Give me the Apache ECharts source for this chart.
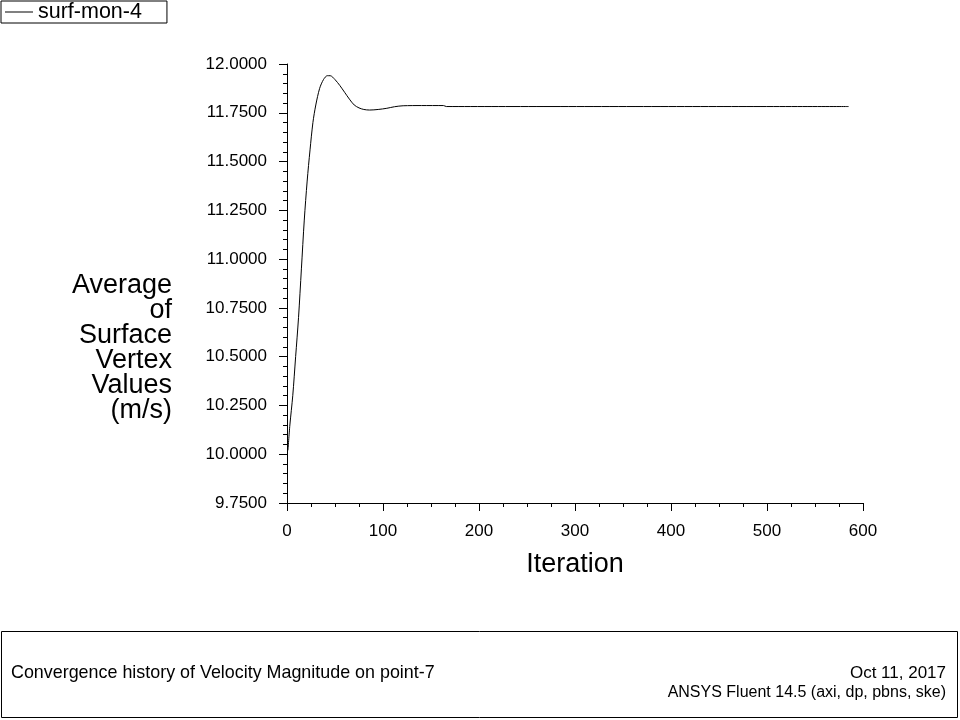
<!DOCTYPE html>
<html>
<head>
<meta charset="utf-8">
<script src="https://cdn.jsdelivr.net/npm/echarts@6/dist/echarts.min.js"></script>
<style>html,body{margin:0;padding:0;background:#fff;}#c{width:960px;height:720px;}</style>
</head>
<body>
<div id="c"></div>
<script>
var seriesName = 'surf-mon-4';
var iterations = [1, 3, 6, 9, 12, 15, 18, 21, 24, 27, 30, 34, 38, 42, 45, 50, 55, 60, 65, 70, 75, 80, 86, 95, 104, 112, 121, 140, 163, 166, 585];
var values = [10.02, 10.15, 10.30, 10.50, 10.70, 10.95, 11.20, 11.40, 11.56, 11.70, 11.79, 11.875, 11.92, 11.94, 11.94, 11.92, 11.89, 11.855, 11.82, 11.79, 11.775, 11.767, 11.764, 11.767, 11.773, 11.781, 11.786, 11.787, 11.787, 11.782, 11.782];
var xTicks = [0, 100, 200, 300, 400, 500, 600];
var yTicks = [9.75, 10.0, 10.25, 10.5, 10.75, 11.0, 11.25, 11.5, 11.75, 12.0];
var yName = 'Average\nof\nSurface\nVertex\nValues\n(m/s)';
var xName = 'Iteration';
var footTitle = 'Convergence history of Velocity Magnitude on point-7';
var footDate = 'Oct 11, 2017';
var footVersion = 'ANSYS Fluent 14.5 (axi, dp, pbns, ske)';

var FONT = "'Liberation Sans', Arial, sans-serif";
var chart = echarts.init(document.getElementById('c'));
var data = iterations.map(function (it, i) { return [it, values[i]]; });

chart.setOption({
  animation: false,
  backgroundColor: '#fff',
  textStyle: { fontFamily: FONT, color: '#000' },
  legend: {
    left: 1, top: 1,
    data: [{ name: seriesName, icon: 'rect' }],
    itemWidth: 28, itemHeight: 1, itemGap: 4,
    borderColor: '#000', borderWidth: 1,
    padding: [0, 25, 0, 4],
    textStyle: { fontFamily: FONT, fontSize: 21.5, color: '#000', padding: [0, 0, 0, 0] },
    itemStyle: { color: '#000' }
  },
  grid: { left: 287, right: 97, top: 64, bottom: 217, containLabel: false },
  xAxis: {
    type: 'value', min: xTicks[0], max: xTicks[xTicks.length - 1], interval: 100,
    name: xName, nameLocation: 'middle', nameGap: 48,
    nameTextStyle: { fontFamily: FONT, fontSize: 27, color: '#000' },
    axisLine: { show: true, onZero: false, lineStyle: { color: '#000', width: 1 } },
    axisTick: { show: true, inside: false, length: 8, lineStyle: { color: '#000' } },
    minorTick: { show: true, splitNumber: 4, length: 4, lineStyle: { color: '#000' } },
    axisLabel: { fontFamily: FONT, fontSize: 17, color: '#000', margin: 20 },
    splitLine: { show: false }
  },
  yAxis: {
    type: 'value', min: yTicks[0], max: yTicks[yTicks.length - 1], interval: 0.25,
    axisLine: { show: true, onZero: false, lineStyle: { color: '#000', width: 1 } },
    axisTick: { show: true, inside: false, length: 8, lineStyle: { color: '#000' } },
    minorTick: { show: true, splitNumber: 5, length: 4, lineStyle: { color: '#000' } },
    axisLabel: { fontFamily: FONT, fontSize: 17, color: '#000', margin: 20,
      formatter: function (v) { return v.toFixed(4); } },
    splitLine: { show: false }
  },
  series: [{
    name: seriesName, type: 'line', data: data, smooth: 0.3,
    showSymbol: false, symbol: 'none',
    lineStyle: { color: '#000', width: 1 }, itemStyle: { color: '#000' }
  }],
  graphic: [
    { type: 'text', x: 172, y: 273,
      style: { text: yName, fontFamily: FONT, fontSize: 27, lineHeight: 25, fill: '#000',
        textAlign: 'right', textVerticalAlign: 'top' } },
    { type: 'rect', shape: { x: 1.5, y: 631.5, width: 956, height: 86 },
      style: { fill: 'none', stroke: '#000', lineWidth: 1 } },
    { type: 'text', x: 11, y: 673,
      style: { text: footTitle, fontFamily: FONT, fontSize: 17.9, fill: '#000',
        textAlign: 'left', textVerticalAlign: 'middle' } },
    { type: 'text', x: 946, y: 673,
      style: { text: footDate, fontFamily: FONT, fontSize: 17, fill: '#000',
        textAlign: 'right', textVerticalAlign: 'middle' } },
    { type: 'text', x: 946, y: 693,
      style: { text: footVersion, fontFamily: FONT, fontSize: 16, fill: '#000',
        textAlign: 'right', textVerticalAlign: 'middle' } }
  ]
});
</script>
</body>
</html>
